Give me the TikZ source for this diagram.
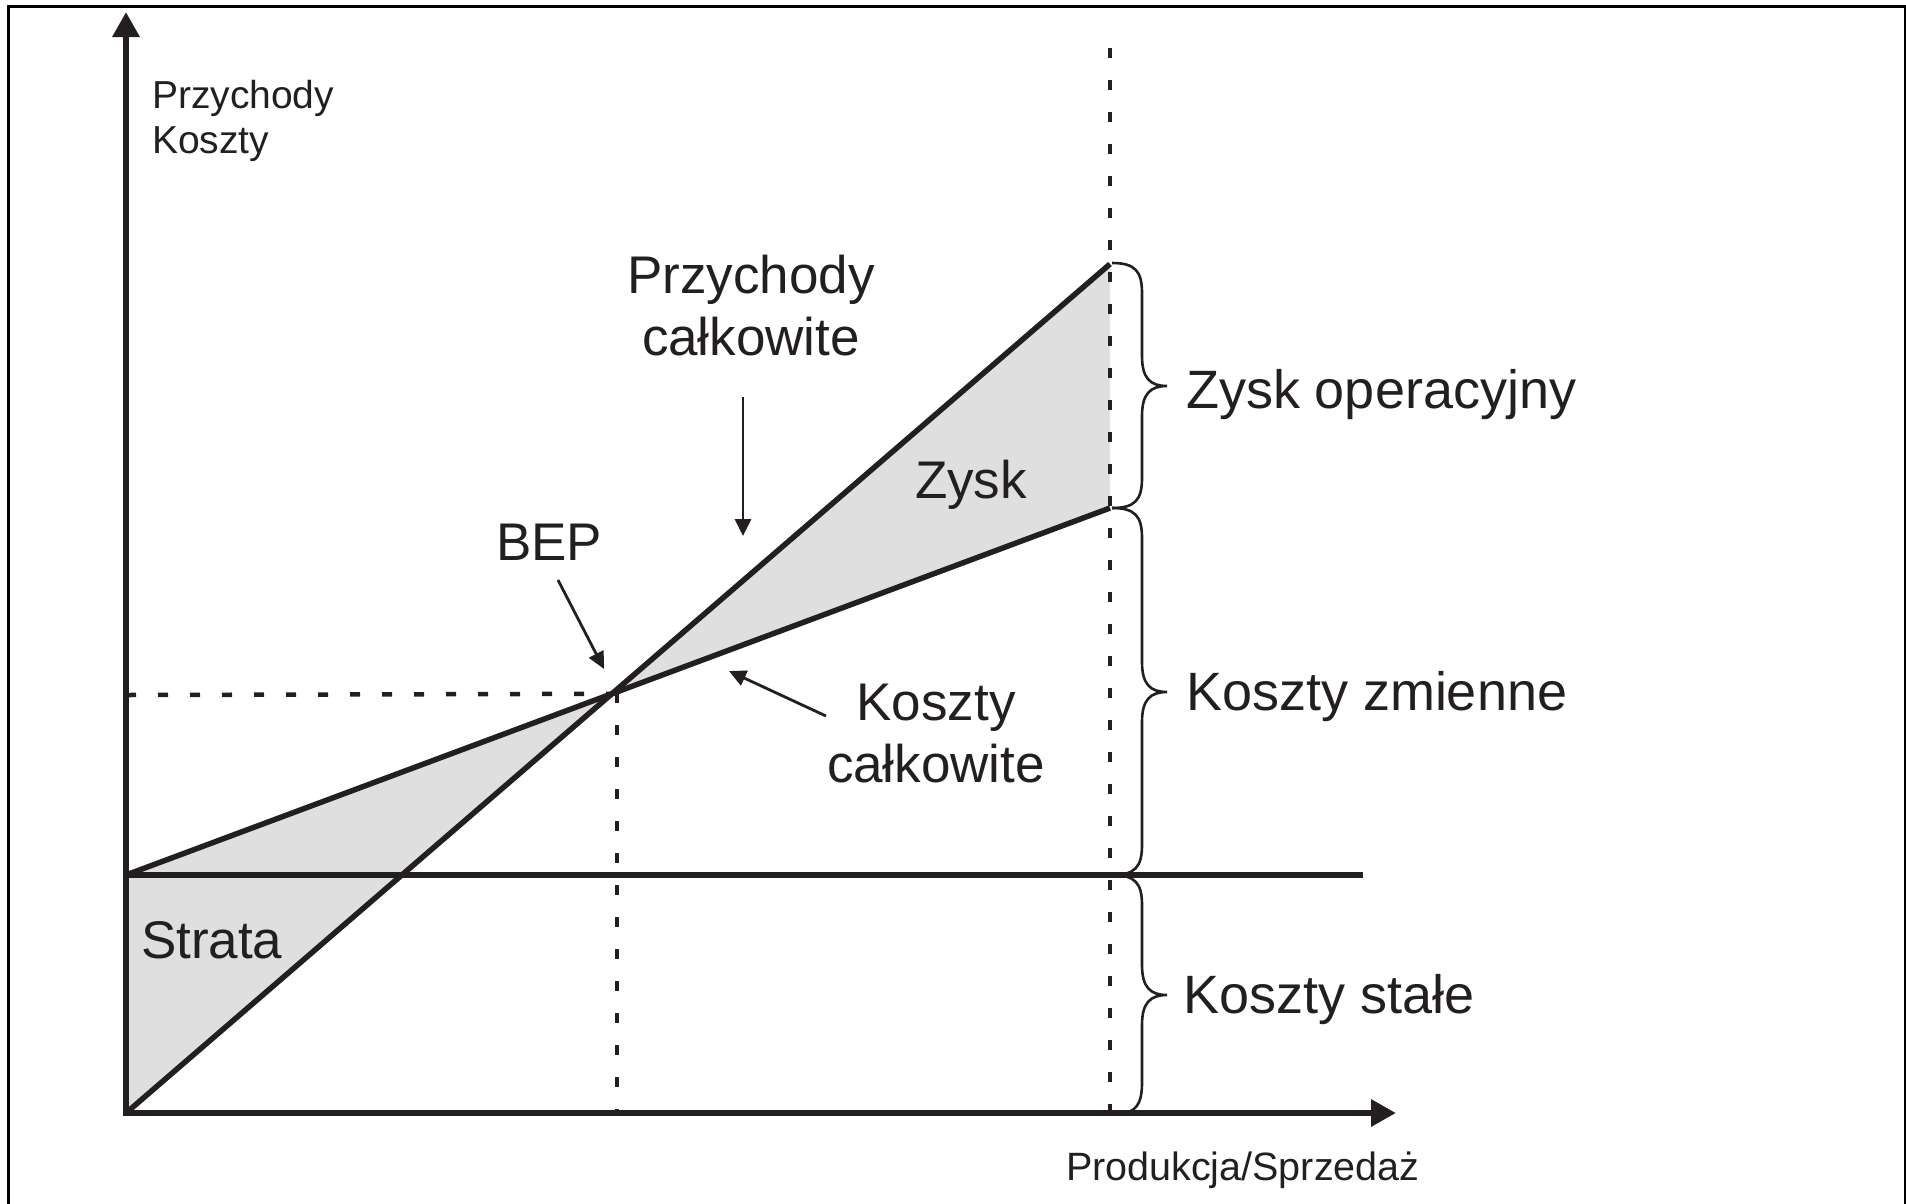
\documentclass[tikz,border=0pt]{standalone}
\usepackage{fontspec}
\setmainfont{Liberation Sans}
\usetikzlibrary{arrows.meta}
\definecolor{ink}{RGB}{35,31,32}
\definecolor{fillgray}{RGB}{223,223,223}
\begin{document}
\begin{tikzpicture}[x=1pt,y=-1pt,
  every node/.style={inner sep=0pt, outer sep=0pt, text=ink},
  lbl/.style={font=\fontsize{53}{62}\selectfont},
  lblbig/.style={font=\fontsize{54}{62}\selectfont},
  axlbl/.style={font=\fontsize{39}{45}\selectfont},
  xlbl/.style={font=\fontsize{39.5}{46}\selectfont},
  axis/.style={draw=ink, line width=6.5pt, -{Triangle[length=25pt,width=26pt]}},
  curve/.style={draw=ink, line width=5.5pt},
  guide/.style={draw=ink, line width=4.5pt, dash pattern=on 10pt off 22pt},
  ptr/.style={draw=ink, line width=2.8pt, -{Triangle[length=17pt,width=16pt]}},
  bracket/.style={draw=ink, line width=2.6pt},
  frame/.style={draw=black, line width=3pt}]
\useasboundingbox (0,0) rectangle (1906,1203);
\draw[frame] (8,1210) -- (8,6) -- (1905,6) -- (1905,1210);

% key points
\coordinate (O) at (126,1113);
\coordinate (Ytop) at (126,12);
\coordinate (Xend) at (1396,1113);
\coordinate (F0) at (126,875);
\coordinate (Fend) at (1363,875);
\coordinate (Rend) at (1110,264);
\coordinate (Cend) at (1110,508);
\coordinate (BEP) at (intersection of O--Rend and F0--Cend);

% shaded regions
\fill[fillgray] (F0) -- (BEP) -- (O) -- cycle;
\fill[fillgray] (BEP) -- (Rend) -- (Cend) -- cycle;

% guide lines
\coordinate (HL) at (126,695);
\coordinate (V1top) at (617,693);
\coordinate (V1bot) at (617,1113);
\coordinate (V2top) at (1110,48);
\coordinate (V2bot) at (1110,1113);
\draw[guide] (HL) -- (BEP);
\draw[guide] (V1top) -- (V1bot);
\draw[guide] (V2top) -- (V2bot);

% curves
\draw[curve] (O) -- (Rend);
\draw[curve] (F0) -- (Cend);
\draw[curve] (F0) -- (Fend);

% axes
\draw[axis] (126,1116) -- (Ytop);
\draw[axis] (123,1113) -- (Xend);

% braces
\draw[bracket] (1112,263) .. controls (1135,263) and (1142,271) .. (1142,293) -- (1142,356)
  .. controls (1142,378) and (1150,386) .. (1167,386)
  .. controls (1150,386) and (1142,394) .. (1142,416) -- (1142,478)
  .. controls (1142,500) and (1135,508) .. (1112,508);
\draw[bracket] (1112,508) .. controls (1135,508) and (1142,516) .. (1142,538) -- (1142,662)
  .. controls (1142,684) and (1150,692) .. (1167,692)
  .. controls (1150,692) and (1142,700) .. (1142,722) -- (1142,845)
  .. controls (1142,867) and (1135,875) .. (1112,875);
\draw[bracket] (1112,875) .. controls (1135,875) and (1142,883) .. (1142,905) -- (1142,965)
  .. controls (1142,987) and (1150,995) .. (1167,995)
  .. controls (1150,995) and (1142,1003) .. (1142,1025) -- (1142,1083)
  .. controls (1142,1105) and (1135,1113) .. (1120,1113);

% labels
\node[axlbl, anchor=base west] (ylab) at (152,108)
  {\begin{tabular}[t]{@{}l@{}}Przychody\\Koszty\end{tabular}};
\node[xlbl, anchor=base west] (xlab) at (1066,1180) {Produkcja/Sprzedaż};
\node[lbl, anchor=base] (pclbl) at (751,293)
  {\begin{tabular}[t]{@{}c@{}}Przychody\\całkowite\end{tabular}};
\node[lbl, anchor=base] (kclbl) at (936,720)
  {\begin{tabular}[t]{@{}c@{}}Koszty\\całkowite\end{tabular}};
\node[lbl, anchor=base west] (zysk) at (915,498) {Zysk};
\node[lbl, anchor=base west] (bep) at (496,560) {BEP};
\node[lbl, anchor=base west] (strata) at (141,958) {Strata};
\node[lblbig, anchor=base west] (zo) at (1186,408) {Zysk operacyjny};
\node[lblbig, anchor=base west] (kz) at (1186,710) {Koszty zmienne};
\node[lblbig, anchor=base west] (ks) at (1183,1013) {Koszty stałe};

% pointer arrows
\coordinate (pcTail) at (743,397);
\coordinate (pcTip) at (743,536);
\coordinate (bepTail) at (558,580);
\coordinate (bepTip) at (604,669);
\coordinate (kcTail) at (826,716);
\coordinate (kcTip) at (729,671);
\draw[ptr] (pcTail) -- (pcTip);
\draw[ptr] (bepTail) -- (bepTip);
\draw[ptr] (kcTail) -- (kcTip);
\end{tikzpicture}
\end{document}
